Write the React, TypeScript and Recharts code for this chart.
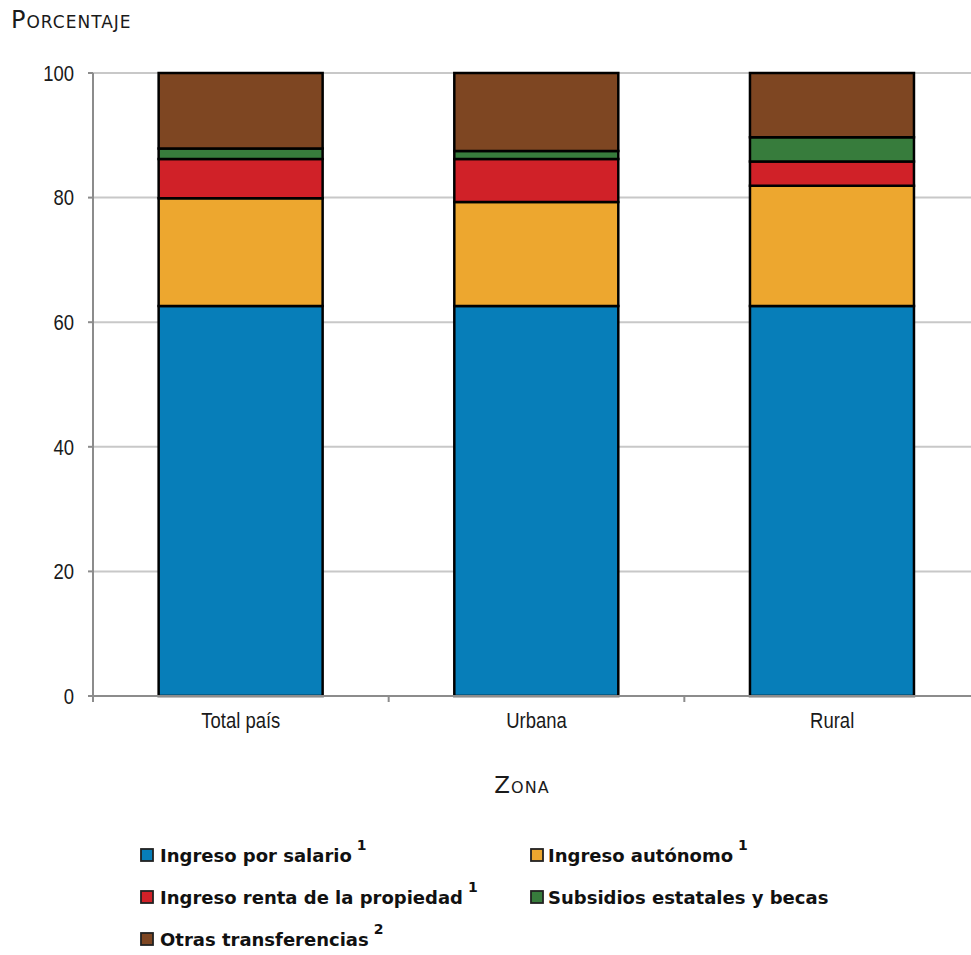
import React from 'react';
import { BarChart, Bar, XAxis, YAxis, CartesianGrid } from 'recharts';

const categories = ['Total país', 'Urbana', 'Rural'];
const salario = [62.6, 62.6, 62.6];
const autonomo = [17.3, 16.7, 19.3];
const renta = [6.3, 6.9, 3.9];
const subsidios = [1.7, 1.3, 3.9];
const otras = [12.1, 12.5, 10.3];
const yTicks = [0, 20, 40, 60, 80, 100];

const seriesKeys = ['salario', 'autonomo', 'renta', 'subsidios', 'otras'];
const seriesNames = [
  'Ingreso por salario',
  'Ingreso autónomo',
  'Ingreso renta de la propiedad',
  'Subsidios estatales y becas',
  'Otras transferencias',
];
const seriesNotes = ['1', '1', '1', '', '2'];
const seriesColors = ['#077EB9', '#EDA72F', '#D02128', '#377C3C', '#7E4622'];

const yTitle = 'Porcentaje';
const xTitle = 'Zona';

const data = categories.map((c, i) => ({
  cat: c,
  salario: salario[i],
  autonomo: autonomo[i],
  renta: renta[i],
  subsidios: subsidios[i],
  otras: otras[i],
}));

const tickFont = "'Liberation Sans', Arial, sans-serif";
const legendFont = "'DejaVu Sans', sans-serif";
const AXIS_GRAY = '#8c8c8c';
const X_TICK_SIZE = 6;
const X_TICK_MARGIN = 10;

const XTick = (props: any) => {
  const { x, y, payload, index, visibleTicksCount } = props;
  const off = payload && typeof payload.offset === 'number' ? payload.offset : 0;
  const axisY = y - X_TICK_SIZE - X_TICK_MARGIN;
  const isLast = index === (visibleTicksCount ?? categories.length) - 1;
  return (
    <g>
      {off ? (
        <line x1={x - off} x2={x - off} y1={axisY} y2={axisY + X_TICK_SIZE} stroke={AXIS_GRAY} strokeWidth={2} />
      ) : null}
      {off && isLast ? (
        <line x1={x + off} x2={x + off} y1={axisY} y2={axisY + X_TICK_SIZE} stroke={AXIS_GRAY} strokeWidth={2} />
      ) : null}
      <g transform={`translate(${x},${y})`}>
        <text transform="scale(0.84,1)" textAnchor="middle" dy="0.71em" fontFamily={tickFont} fontSize={22} fill="#1a1a1a">
          {payload.value}
        </text>
      </g>
    </g>
  );
};

const YTick = (props: any) => {
  const { x, y, payload } = props;
  return (
    <g transform={`translate(${x},${y})`}>
      <text transform="scale(0.84,1)" textAnchor="end" dy="0.355em" fontFamily={tickFont} fontSize={22} fill="#1a1a1a">
        {payload.value}
      </text>
    </g>
  );
};

export default function App() {
  return (
    <div style={{ position: 'absolute', left: 0, top: 0, width: 971, height: 955, overflow: 'hidden', background: '#fff' }}>
      <BarChart
        width={980}
        height={955}
        data={data}
        margin={{ top: 73, right: 0, left: 0, bottom: 229 }}
        barCategoryGap="22.2%"
      >
        <CartesianGrid vertical={false} stroke="#c8c8c8" strokeWidth={2} />
        <XAxis
          dataKey="cat"
          height={30}
          axisLine={{ stroke: AXIS_GRAY, strokeWidth: 2 }}
          tickLine={false}
          tickSize={X_TICK_SIZE}
          tickMargin={X_TICK_MARGIN}
          tick={XTick}
          interval={0}
        />
        <YAxis
          width={93}
          domain={[0, 100]}
          ticks={yTicks}
          axisLine={{ stroke: AXIS_GRAY, strokeWidth: 2 }}
          tickLine={{ stroke: AXIS_GRAY, strokeWidth: 2 }}
          tickSize={5}
          tickMargin={14}
          tick={YTick}
        />
        {seriesKeys.map((k, i) => (
          <Bar
            key={k}
            dataKey={k}
            stackId="a"
            fill={seriesColors[i]}
            stroke="#000"
            strokeWidth={2.5}
            isAnimationActive={false}
          />
        ))}
      </BarChart>
      <svg
        width={971}
        height={955}
        style={{ position: 'absolute', left: 0, top: 0, pointerEvents: 'none' }}
      >
        <text x={11} y={28} fontFamily={legendFont} fontSize={24} letterSpacing={1} fill="#1a1a1a" style={{ fontVariant: 'small-caps' }}>
          {yTitle}
        </text>
        <text x={522} y={793} textAnchor="middle" fontFamily={legendFont} fontSize={23} letterSpacing={1} fill="#1a1a1a" style={{ fontVariant: 'small-caps' }}>
          {xTitle}
        </text>
        {seriesNames.map((name, i) => {
          const col = i % 2;
          const row = Math.floor(i / 2);
          const baseline = 862 + row * 42;
          const ix = col === 0 ? 141 : 531;
          const tx = col === 0 ? 160 : 548;
          return (
            <g key={name}>
              <rect x={ix} y={baseline - 13} width={12} height={12} fill={seriesColors[i]} stroke="#222" strokeWidth={1.8} />
              <text x={tx} y={baseline} fontFamily={legendFont} fontWeight="bold" fontSize={18} fill="#111">
                {name}
                {seriesNotes[i] ? (
                  <tspan dx={5} dy={-12} fontSize={14}>{seriesNotes[i]}</tspan>
                ) : null}
              </text>
            </g>
          );
        })}
      </svg>
    </div>
  );
}
